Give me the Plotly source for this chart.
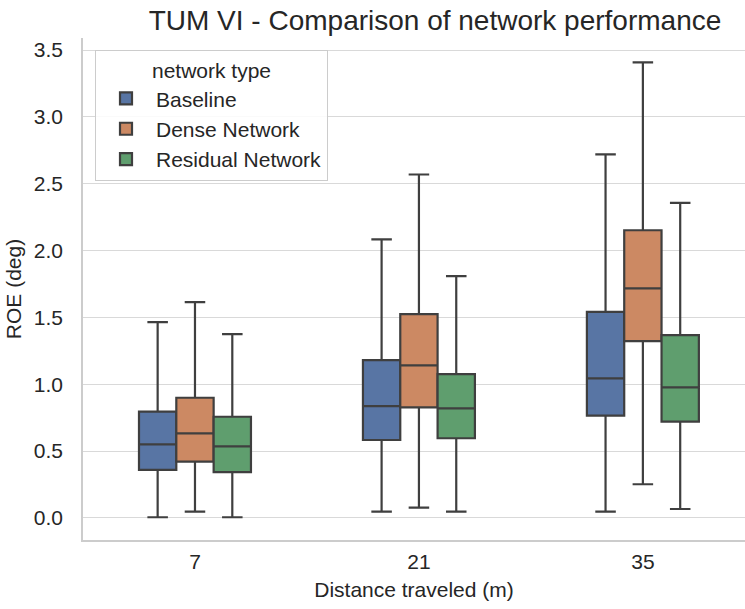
import plotly.graph_objects as go

categories = ["7", "21", "35"]
series = ["Baseline", "Dense Network", "Residual Network"]
colors = ["#5875a4", "#cc8963", "#5f9e6e"]

lower = {
    "Baseline": [0.005, 0.047, 0.047],
    "Dense Network": [0.047, 0.077, 0.252],
    "Residual Network": [0.005, 0.047, 0.067],
}
q1 = {
    "Baseline": [0.359, 0.583, 0.765],
    "Dense Network": [0.421, 0.827, 1.323],
    "Residual Network": [0.342, 0.596, 0.720],
}
median = {
    "Baseline": [0.551, 0.837, 1.044],
    "Dense Network": [0.633, 1.141, 1.717],
    "Residual Network": [0.536, 0.820, 0.977],
}
q3 = {
    "Baseline": [0.795, 1.181, 1.542],
    "Dense Network": [0.899, 1.525, 2.152],
    "Residual Network": [0.757, 1.076, 1.368],
}
upper = {
    "Baseline": [1.465, 2.083, 2.720],
    "Dense Network": [1.614, 2.569, 3.408],
    "Residual Network": [1.375, 1.809, 2.357],
}
y_ticks = [0.0, 0.5, 1.0, 1.5, 2.0, 2.5, 3.0, 3.5]

FONT = "Liberation Sans, Arial, sans-serif"
fig = go.Figure()
for s, c in zip(series, colors):
    fig.add_trace(go.Box(
        name=s, x=categories,
        q1=q1[s], median=median[s], q3=q3[s],
        lowerfence=lower[s], upperfence=upper[s],
        fillcolor=c, line=dict(color="#3f3f3f", width=2.2),
        whiskerwidth=0.55, boxpoints=False, hoverinfo="skip",
    ))

fig.update_layout(
    width=745, height=609,
    margin=dict(l=83, r=0, t=38, b=69),
    paper_bgcolor="white", plot_bgcolor="white",
    boxmode="group", boxgap=0.5, boxgroupgap=0,
    font=dict(family=FONT, color="#262626", size=21),
    title=dict(text="TUM VI - Comparison of network performance",
               x=(435 - 83) / 662, xanchor="center", xref="paper",
               y=1 - 20 / 609, yanchor="middle",
               font=dict(size=28, color="#262626")),
    legend=dict(
        x=(95 - 83) / 662, y=1 - (50 - 38) / 502, xanchor="left", yanchor="top",
        bgcolor="rgba(255,255,255,0.85)", bordercolor="#cccccc", borderwidth=1,
        font=dict(size=21, color="#262626"), itemwidth=50,
        title=dict(text="network type", side="top center", font=dict(size=21)),
    ),
    xaxis=dict(
        type="category", range=[-0.5, 2.456],
        showgrid=False, showline=True, linecolor="#cccccc", linewidth=1.5,
        ticks="outside", ticklen=2, tickcolor="rgba(0,0,0,0)",
        tickfont=dict(size=21, color="#262626"),
        title=dict(text="Distance traveled (m)", font=dict(size=21), standoff=10),
        zeroline=False,
    ),
    yaxis=dict(
        range=[-0.165, 3.59], tickvals=y_ticks, tickformat=".1f",
        showgrid=True, gridcolor="#d9d9d9", gridwidth=1.2,
        showline=True, linecolor="#cccccc", linewidth=1.5,
        ticks="outside", ticklen=14, tickcolor="rgba(0,0,0,0)",
        tickfont=dict(size=21, color="#262626"),
        title=dict(text="ROE (deg)", font=dict(size=21), standoff=6),
        zeroline=False,
    ),
)

fig.write_html("out.html")
